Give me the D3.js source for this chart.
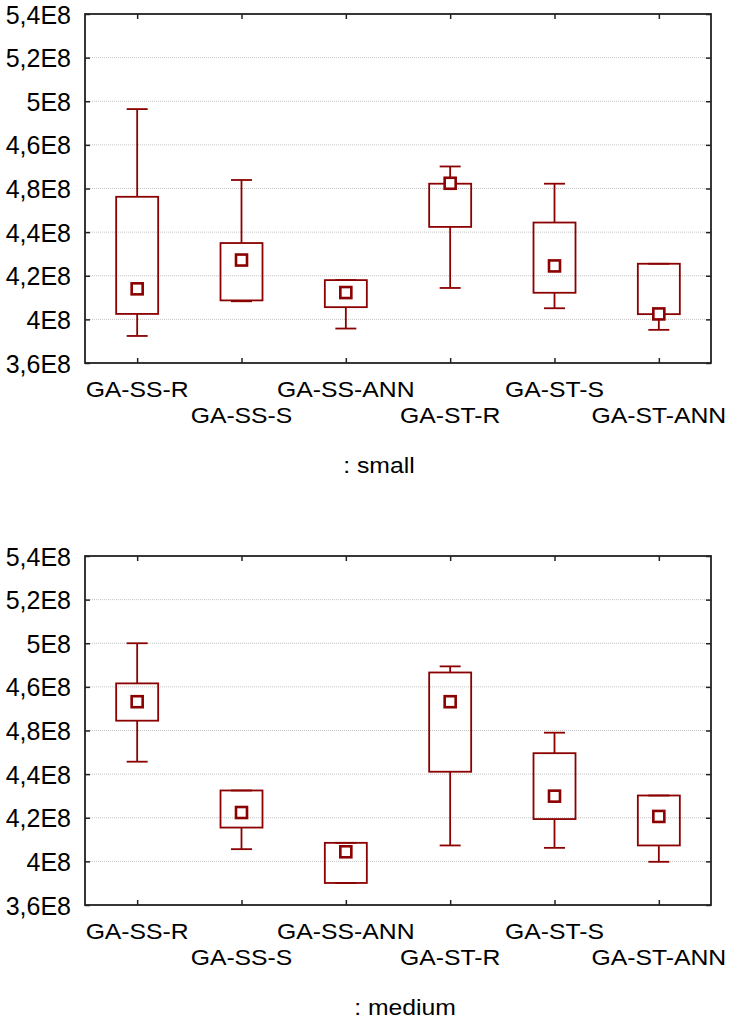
<!DOCTYPE html>
<html>
<head>
<meta charset="utf-8">
<script src="https://cdn.jsdelivr.net/npm/d3@7"></script>
<style>
  html, body { margin: 0; padding: 0; background: #fff; }
  svg { display: block; }
  text { font-family: "Liberation Sans", Arial, sans-serif; fill: #000; }
</style>
</head>
<body>
<svg id="chart" width="730" height="1019"></svg>
<script>
// ---- data ----
const categories = ["GA-SS-R", "GA-SS-S", "GA-SS-ANN", "GA-ST-R", "GA-ST-S", "GA-ST-ANN"];
const tickValues = [3.8e8, 4.0e8, 4.2e8, 4.4e8, 4.6e8, 4.8e8, 5.0e8, 5.2e8, 5.4e8];
const tickLabels = ["3,6E8", "4E8", "4,2E8", "4,4E8", "4,8E8", "4,6E8", "5E8", "5,2E8", "5,4E8"];
const panelTitles = [": small", ": medium"];

const smallWhiskerHigh = [4.964e8, 4.639e8, 4.180e8, 4.701e8, 4.622e8, 4.255e8];
const smallBoxHigh     = [4.562e8, 4.350e8, 4.180e8, 4.622e8, 4.444e8, 4.255e8];
const smallBoxLow      = [4.025e8, 4.087e8, 4.056e8, 4.424e8, 4.122e8, 4.024e8];
const smallWhiskerLow  = [3.924e8, 4.083e8, 3.958e8, 4.144e8, 4.051e8, 3.952e8];
const smallMean        = [4.140e8, 4.272e8, 4.123e8, 4.624e8, 4.245e8, 4.025e8];

const mediumWhiskerHigh = [5.000e8, 4.325e8, 4.085e8, 4.894e8, 4.590e8, 4.302e8];
const mediumBoxHigh     = [4.816e8, 4.325e8, 4.085e8, 4.866e8, 4.496e8, 4.302e8];
const mediumBoxLow      = [4.645e8, 4.155e8, 3.901e8, 4.411e8, 4.194e8, 4.073e8];
const mediumWhiskerLow  = [4.457e8, 4.056e8, 3.901e8, 4.073e8, 4.062e8, 3.998e8];
const mediumMean        = [4.732e8, 4.224e8, 4.044e8, 4.732e8, 4.299e8, 4.206e8];

const panels = [
  { title: panelTitles[0], wHi: smallWhiskerHigh, bHi: smallBoxHigh, bLo: smallBoxLow, wLo: smallWhiskerLow, mean: smallMean },
  { title: panelTitles[1], wHi: mediumWhiskerHigh, bHi: mediumBoxHigh, bLo: mediumBoxLow, wLo: mediumWhiskerLow, mean: mediumMean }
];

// ---- layout ----
const svg = d3.select("#chart");
const left = 85, right = 711, plotTop = 14, plotH = 349, panelStep = 542;
const color = "#8b0000";
const labelMap = new Map(tickValues.map((v, i) => [v, tickLabels[i]]));

panels.forEach((p, pi) => {
  const top = plotTop + pi * panelStep;
  const bottom = top + plotH;
  const g = svg.append("g");

  const x = d3.scaleBand().domain(categories).range([left, right]).padding(0);
  const y = d3.scaleLinear().domain([3.8e8, 5.4e8]).range([bottom, top]);

  // grid
  g.append("g").selectAll("line")
    .data(tickValues.slice(1, -1))
    .join("line")
    .attr("x1", left + 1).attr("x2", right - 1)
    .attr("y1", d => y(d)).attr("y2", d => y(d))
    .attr("stroke", "#c4c4c4").attr("stroke-width", 1)
    .attr("stroke-dasharray", "1,1");

  // left axis (labels + inward ticks)
  const ax = g.append("g").attr("transform", `translate(${left},0)`)
    .call(d3.axisLeft(y).tickValues(tickValues).tickSize(-5).tickPadding(14)
      .tickFormat(d => labelMap.get(d)));
  ax.select(".domain").remove();
  ax.selectAll("line").attr("stroke", "#222").attr("stroke-width", 1.5);
  ax.selectAll("text").attr("font-size", 25).attr("font-family", "Liberation Sans, Arial, sans-serif")
    .attr("fill", "#000").attr("dy", "0.36em");

  // right axis
  const ar = g.append("g").attr("transform", `translate(${right},0)`)
    .call(d3.axisRight(y).tickValues(tickValues).tickSize(-5).tickFormat(""));
  ar.select(".domain").remove();
  ar.selectAll("line").attr("stroke", "#222").attr("stroke-width", 1.5);

  // top/bottom ticks
  const xc = d => x(d) + x.bandwidth() / 2;
  const xPoint = d3.scalePoint().domain(categories).range([xc(categories[0]), xc(categories[5])]);
  const atop = g.append("g").attr("transform", `translate(0,${top})`)
    .call(d3.axisTop(xPoint).tickSize(-5).tickFormat(""));
  atop.select(".domain").remove();
  atop.selectAll("line").attr("stroke", "#222").attr("stroke-width", 1.5);
  const abot = g.append("g").attr("transform", `translate(0,${bottom})`)
    .call(d3.axisBottom(xPoint).tickSize(-5).tickFormat(""));
  abot.select(".domain").remove();
  abot.selectAll("line").attr("stroke", "#222").attr("stroke-width", 1.5);

  // frame
  g.append("rect").attr("x", left).attr("y", top).attr("width", right - left).attr("height", bottom - top)
    .attr("fill", "none").attr("stroke", "#222").attr("stroke-width", 1.8);

  // boxes
  const boxW = 42, capW = 21, mk = 11;
  const items = g.append("g").selectAll("g").data(categories).join("g");
  items.append("line")
    .attr("x1", d => xc(d)).attr("x2", d => xc(d))
    .attr("y1", (d, i) => y(p.wHi[i])).attr("y2", (d, i) => y(p.bHi[i]))
    .attr("stroke", color).attr("stroke-width", 1.8);
  items.append("line")
    .attr("x1", d => xc(d)).attr("x2", d => xc(d))
    .attr("y1", (d, i) => y(p.bLo[i])).attr("y2", (d, i) => y(p.wLo[i]))
    .attr("stroke", color).attr("stroke-width", 1.8);
  items.append("line")
    .attr("x1", d => xc(d) - capW / 2).attr("x2", d => xc(d) + capW / 2)
    .attr("y1", (d, i) => y(p.wHi[i])).attr("y2", (d, i) => y(p.wHi[i]))
    .attr("stroke", color).attr("stroke-width", 1.8);
  items.append("line")
    .attr("x1", d => xc(d) - capW / 2).attr("x2", d => xc(d) + capW / 2)
    .attr("y1", (d, i) => y(p.wLo[i])).attr("y2", (d, i) => y(p.wLo[i]))
    .attr("stroke", color).attr("stroke-width", 1.8);
  items.append("rect")
    .attr("x", d => xc(d) - boxW / 2).attr("width", boxW)
    .attr("y", (d, i) => y(p.bHi[i])).attr("height", (d, i) => y(p.bLo[i]) - y(p.bHi[i]))
    .attr("fill", "none").attr("stroke", color).attr("stroke-width", 1.8);
  items.append("rect")
    .attr("x", d => xc(d) - mk / 2).attr("width", mk)
    .attr("y", (d, i) => y(p.mean[i]) - mk / 2).attr("height", mk)
    .attr("fill", "#fff").attr("stroke", color).attr("stroke-width", 2.6);

  // category labels (staggered)
  g.append("g").selectAll("text").data(categories).join("text")
    .attr("transform", (d, i) => `translate(${xc(d)},${bottom + (i % 2 === 0 ? 34 : 60)}) scale(1.1,1)`)
    .attr("text-anchor", "middle").attr("font-size", 22.5)
    .text(d => d);

  // panel title
  g.append("text")
    .attr("transform", `translate(${pi === 0 ? 379 : 405},${bottom + 110}) scale(1.1,1)`)
    .attr("text-anchor", "middle").attr("font-size", 22.5)
    .text(p.title);
});
</script>
</body>
</html>
